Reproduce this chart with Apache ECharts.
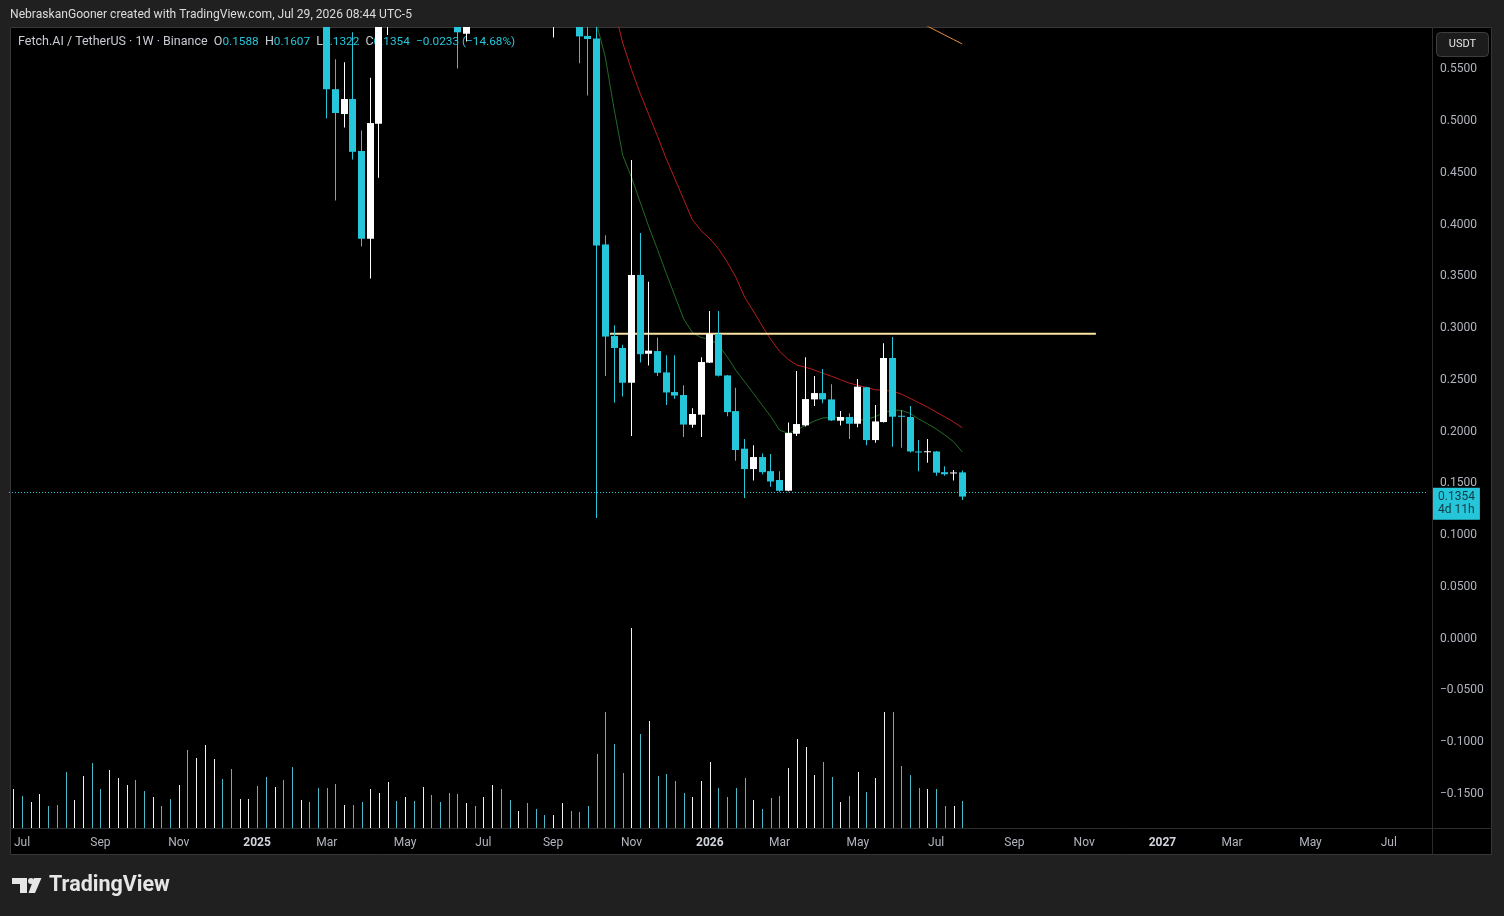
<!DOCTYPE html>
<html>
<head>
<meta charset="utf-8">
<script src="https://cdn.jsdelivr.net/npm/echarts@6/dist/echarts.min.js"></script>
<style>
html,body{margin:0;padding:0;background:#202020;}
#chart{width:1504px;height:916px;}
</style>
</head>
<body>
<div id="chart"></div>
<script>
// ---------- DATA (weekly FET/USDT, Binance; weeks start 2024-06-24) ----------
const firstWeek = '2024-06-24';
const totalWeeks = 163; // visible time scale runs into Aug 2027

const opens = [1.33,1.42,1.15,1.27,1.38,1.25,1.06,0.98,1.05,1.38,
  1.15,1.08,1.35,1.50,1.60,1.38,1.35,1.45,1.38,1.22,
  1.45,1.28,1.48,1.80,1.95,1.62,1.28,1.30,1.40,1.22,
  1.15,1.25,0.95,0.78,0.82,0.73,0.66,0.529,0.505,0.5195,
  0.4693,0.3845,0.4957,0.64,0.74,0.70,0.85,0.80,0.83,0.76,
  0.74,0.70,0.5826,0.64,0.61,0.70,0.78,0.72,0.66,0.69,
  0.66,0.64,0.62,0.64,0.66,0.63,0.5805,0.578,0.379,0.2905,
  0.279,0.2454,0.3495,0.2734,0.276,0.2554,0.2364,0.2335,0.2048,0.2145,
  0.2648,0.2925,0.2525,0.218,0.1817,0.162,0.1736,0.160,0.1514,0.1411,
  0.1961,0.2042,0.2293,0.2354,0.2293,0.2087,0.2123,0.2058,0.241,0.190,
  0.2074,0.2693,0.2135,0.2123,0.179,0.1784,0.179,0.159,0.1578,0.1588];
const highs = [1.52,1.50,1.32,1.45,1.44,1.30,1.12,1.10,1.45,1.45,
  1.22,1.38,1.55,1.75,1.65,1.48,1.52,1.55,1.45,1.50,
  1.55,1.52,1.90,2.05,2.00,1.70,1.42,1.52,1.45,1.30,
  1.38,1.30,1.00,0.88,0.86,0.76,0.72,0.558,0.555,0.584,
  0.489,0.540,0.66,0.80,0.78,0.90,0.95,0.88,0.86,0.80,
  0.84,0.72,0.66,0.66,0.72,0.82,0.84,0.74,0.72,0.76,
  0.70,0.67,0.66,0.68,0.70,0.65,0.62,0.60,0.388,0.301,
  0.282,0.4606,0.390,0.343,0.289,0.272,0.272,0.243,0.2207,0.270,
  0.3147,0.3147,0.2528,0.2406,0.191,0.185,0.177,0.1765,0.160,0.207,
  0.2567,0.270,0.252,0.2586,0.244,0.218,0.216,0.249,0.2415,0.224,
  0.2836,0.2896,0.219,0.223,0.190,0.191,0.1795,0.1646,0.161,0.1607];
const lows = [1.25,1.04,1.06,1.20,1.18,1.02,0.80,0.93,1.02,1.10,
  1.02,1.05,1.28,1.45,1.30,1.28,1.32,1.30,1.18,1.16,
  1.20,1.22,1.42,1.70,1.50,1.22,1.20,1.25,1.15,1.10,
  1.10,0.88,0.66,0.74,0.70,0.61,0.501,0.4215,0.492,0.461,
  0.377,0.346,0.4435,0.5813,0.66,0.66,0.76,0.75,0.72,0.70,
  0.66,0.549,0.575,0.60,0.60,0.68,0.68,0.62,0.62,0.63,
  0.61,0.60,0.579,0.61,0.605,0.554,0.523,0.1147,0.252,0.226,
  0.232,0.194,0.265,0.262,0.252,0.224,0.230,0.193,0.202,0.193,
  0.2645,0.2515,0.213,0.170,0.134,0.151,0.157,0.145,0.140,0.1405,
  0.194,0.203,0.223,0.2255,0.2085,0.204,0.191,0.2023,0.185,0.1875,
  0.207,0.1836,0.1826,0.178,0.160,0.168,0.1556,0.1556,0.151,0.1322];
const closes = [1.42,1.15,1.27,1.38,1.25,1.06,0.98,1.05,1.38,1.15,
  1.08,1.35,1.50,1.60,1.38,1.35,1.45,1.38,1.22,1.45,
  1.28,1.48,1.80,1.95,1.62,1.28,1.30,1.40,1.22,1.15,
  1.25,0.95,0.78,0.82,0.73,0.66,0.529,0.506,0.5195,0.4685,
  0.3845,0.4963,0.64,0.74,0.70,0.85,0.80,0.83,0.76,0.74,
  0.70,0.584,0.64,0.61,0.70,0.78,0.72,0.66,0.69,0.66,
  0.64,0.62,0.64,0.66,0.63,0.580,0.5775,0.378,0.290,0.279,
  0.2454,0.3495,0.273,0.2764,0.255,0.236,0.233,0.205,0.2152,0.2654,
  0.2925,0.2522,0.217,0.1804,0.162,0.1736,0.159,0.150,0.141,0.1968,
  0.2055,0.2296,0.2354,0.2293,0.209,0.2123,0.2058,0.2416,0.190,0.208,
  0.2693,0.2126,0.2125,0.179,0.1785,0.1792,0.1585,0.157,0.1587,0.1354];
// volume (relative units)
const volume = [39,32,26,34,22,23,56,28,52,65,
  39,58,50,43,48,37,31,22,29,43,
  78,70,83,69,49,59,29,29,42,51,
  41,48,61,28,26,40,40,44,23,23,
  26,39,35,46,27,31,27,41,33,26,
  35,34,25,22,31,43,39,28,17,25,
  19,13,13,25,17,16,22,74,116,84,
  55,200,94,107,52,54,47,35,31,47,
  66,40,31,40,50,28,19,30,32,60,
  89,81,53,66,51,26,32,56,36,50,
  116,116,62,53,40,39,39,22,22,27];
// moving averages (start = first week index)
const maGreenStart = 66;
const maGreen = [0.625,0.592,0.560,0.510,0.465,0.444,0.420,0.396,0.374,0.351,
  0.329,0.307,0.294,0.289,0.2876,0.2818,0.2705,0.2574,0.2464,0.2352,
  0.2239,0.2129,0.1997,0.1965,0.1997,0.2042,0.2084,0.2113,0.2120,0.2120,
  0.2103,0.2094,0.2097,0.2126,0.2164,0.2190,0.2187,0.2158,0.2103,0.2058,
  0.2007,0.1949,0.1884,0.1785];
const maRedStart = 68;
const maRed = [0.640,0.6077,0.5736,0.548,0.525,0.5043,0.4834,0.4618,0.4422,0.4225,
  0.4029,0.3922,0.3846,0.3749,0.362,0.3473,0.3282,0.3147,0.3005,0.2873,
  0.2759,0.268,0.2625,0.2603,0.2577,0.2545,0.2516,0.2483,0.2451,0.2429,
  0.2408,0.2386,0.2381,0.2371,0.2345,0.2303,0.2261,0.2219,0.2171,0.2124,
  0.2075,0.2019];
const maOrangeStart = 103;
const maOrange = [0.5985,0.5942,0.5899,0.5856,0.5813,0.5770,0.5727];
// horizontal resistance line (x in week-index units, y in price)
const resistanceLine = [[68.53, 0.2928], [124.35, 0.2928]];
// x-axis tick labels (first weekly bar of every other month)
const xTickLabels = {
  '2024-07-01':'Jul','2024-09-02':'Sep','2024-11-04':'Nov','2025-01-06':'2025',
  '2025-03-03':'Mar','2025-05-05':'May','2025-07-07':'Jul','2025-09-01':'Sep',
  '2025-11-03':'Nov','2026-01-05':'2026','2026-03-02':'Mar','2026-05-04':'May',
  '2026-07-06':'Jul','2026-09-07':'Sep','2026-11-02':'Nov','2027-01-04':'2027',
  '2027-03-01':'Mar','2027-05-03':'May','2027-07-05':'Jul'};
const countdown = '4d 11h';

// ---------- BUILD ----------
const weeks = [];
{
  const t0 = Date.parse(firstWeek + 'T00:00:00Z');
  for (let k = 0; k < totalWeeks; k++) weeks.push(new Date(t0 + k * 7 * 86400000).toISOString().slice(0, 10));
}
const UP = '#ffffff', DOWN = '#26c6da';
const VOL_UP = '#f2f2f2', VOL_DOWN = '#4cb8c8';
const candleData = opens.map((o, i) => [i, o, closes[i], lows[i], highs[i]]);
const volData = volume.map((v, i) => [i, v, closes[i] >= opens[i] ? 1 : 0]);
function pad(start, arr) { const out = []; for (let i = 0; i < start; i++) out.push(null); return out.concat(arr); }

const last = closes.length - 1;
const chg = closes[last] - closes[last - 1];
const pct = chg / closes[last - 1] * 100;
const fmtSigned = v => (v < 0 ? '\u2212' : '+') + Math.abs(v).toFixed(4);
const legendText =
  '{g|Fetch.AI / TetherUS · 1W · Binance}  {g|O}{c|' + opens[last].toFixed(4) + '}  {g|H}{c|' + highs[last].toFixed(4) +
  '}  {g|L}{c|' + lows[last].toFixed(4) + '}  {g|C}{c|' + closes[last].toFixed(4) + '}  {c|' + fmtSigned(chg) +
  ' (' + (pct < 0 ? '\u2212' : '+') + Math.abs(pct).toFixed(2) + '%)}';

const chart = echarts.init(document.getElementById('chart'), null, {renderer: 'canvas'});
const FONT = 'Roboto, "Noto Sans", sans-serif';

const option = {
  backgroundColor: '#202020',
  animation: false,
  textStyle: {fontFamily: FONT},
  grid: {left: 9, top: 27, width: 1419, height: 801, outerBoundsMode: 'none', containLabel: false},
  xAxis: [{
    type: 'category', data: weeks, boundaryGap: true,
    axisLine: {show: false}, axisTick: {show: false}, splitLine: {show: false},
    axisLabel: {
      interval: (idx, val) => Object.prototype.hasOwnProperty.call(xTickLabels, val),
      formatter: val => { const t = xTickLabels[val] || ''; return /^\d{4}$/.test(t) ? '{y|' + t + '}' : t; },
      color: '#b2b5be', fontSize: 12, margin: 9, fontFamily: FONT, hideOverlap: false,
      rich: {y: {color: '#d1d4dc', fontWeight: 'bold', fontSize: 12, fontFamily: FONT}}
    }
  }, {
    type: 'value', min: -0.5, max: totalWeeks - 0.5, show: false
  }],
  yAxis: [{
    type: 'value', position: 'right', min: -0.1848, max: 0.5891, splitNumber: 15,
    axisLine: {show: false}, axisTick: {show: false}, splitLine: {show: false},
    axisLabel: {
      color: '#b2b5be', fontSize: 12, margin: 12, fontFamily: FONT,
      showMinLabel: false, showMaxLabel: false,
      formatter: v => '{v|' + (v < -1e-9 ? '\u2212' : '') + Math.abs(v).toFixed(4) + '}',
      rich: {v: {color: '#b2b5be', fontSize: 12, fontFamily: FONT, padding: [4, 0, 0, 0]}}
    }
  }, {
    type: 'value', min: 0, max: 801, show: false
  }],
  graphic: [
    {type: 'rect', z: -1, silent: true, shape: {x: 10.5, y: 27.5, width: 1481, height: 827}, style: {fill: '#000000', stroke: '#363636', lineWidth: 1}},
    {type: 'line', z: 1, silent: true, shape: {x1: 1432.5, y1: 27, x2: 1432.5, y2: 855}, style: {stroke: '#2c2c2c', lineWidth: 1}},
    {type: 'line', z: 1, silent: true, shape: {x1: 10, y1: 828.5, x2: 1492, y2: 828.5}, style: {stroke: '#2c2c2c', lineWidth: 1}},
    {type: 'text', z: 1, silent: true, x: 10, y: 15, style: {text: 'NebraskanGooner created with TradingView.com, Jul 29, 2026 08:44 UTC-5', fill: '#dcdcdc', fontSize: 12.1, fontFamily: FONT, verticalAlign: 'middle'}},
    {type: 'text', z: 1, silent: true, x: 18, y: 42, style: {text: legendText, fontSize: 12.5, fontFamily: FONT, verticalAlign: 'middle',
      rich: {g: {fill: '#c9ccd3', color: '#c9ccd3', fontSize: 12.5, fontFamily: FONT}, c: {fill: DOWN, color: DOWN, fontSize: 11.8, fontFamily: FONT}}}},
    {type: 'rect', z: 1, silent: true, shape: {x: 1436.5, y: 32.5, width: 52, height: 24, r: 4}, style: {fill: '#1c1c1c', stroke: '#3e3e3e', lineWidth: 1}},
    {type: 'text', z: 1, silent: true, x: 1462.5, y: 44.5, style: {text: 'USDT', fill: '#e6e6e6', fontSize: 11, fontFamily: FONT, align: 'center', verticalAlign: 'middle'}},
    // TradingView logo
    {type: 'rect', z: 1, silent: true, shape: {x: 12, y: 878, width: 15, height: 6}, style: {fill: '#e6e6e6'}},
    {type: 'rect', z: 1, silent: true, shape: {x: 20, y: 884, width: 7, height: 9}, style: {fill: '#e6e6e6'}},
    {type: 'circle', z: 1, silent: true, shape: {cx: 31, cy: 881, r: 3}, style: {fill: '#e6e6e6'}},
    {type: 'polygon', z: 1, silent: true, shape: {points: [[34, 878], [41.5, 878], [35, 893], [28.5, 893]]}, style: {fill: '#e6e6e6'}},
    {type: 'text', z: 1, silent: true, x: 49, y: 886, style: {text: 'TradingView', fill: '#e6e6e6', fontSize: 21.5, fontWeight: 'bold', fontFamily: 'Roboto, sans-serif', verticalAlign: 'middle'}}
  ],
  series: [
    {
      name: 'Volume', type: 'custom', xAxisIndex: 0, yAxisIndex: 1, clip: true, silent: true,
      data: volData, encode: {x: 0, y: 1},
      renderItem: (params, api) => {
        const i = api.value(0), v = api.value(1), up = api.value(2) === 1;
        const p = api.coord([i, v]), b = api.coord([i, 0]);
        return {type: 'rect', shape: {x: Math.round(p[0]), y: p[1], width: 1, height: b[1] - p[1]}, style: {fill: up ? VOL_UP : VOL_DOWN}};
      }
    },
    {
      name: 'MA green', type: 'line', xAxisIndex: 0, yAxisIndex: 0, data: pad(maGreenStart, maGreen),
      showSymbol: false, symbol: 'none', silent: true, clip: true, lineStyle: {color: '#236b26', width: 1}, z: 3
    },
    {
      name: 'MA red', type: 'line', xAxisIndex: 0, yAxisIndex: 0, data: pad(maRedStart, maRed),
      showSymbol: false, symbol: 'none', silent: true, clip: true, lineStyle: {color: '#b71c1c', width: 1}, z: 3
    },
    {
      name: 'MA orange', type: 'line', xAxisIndex: 0, yAxisIndex: 0, data: pad(maOrangeStart, maOrange),
      showSymbol: false, symbol: 'none', silent: true, clip: true, lineStyle: {color: '#e8893a', width: 1}, z: 3
    },
    {
      name: 'Resistance', type: 'line', xAxisIndex: 1, yAxisIndex: 0, data: resistanceLine,
      showSymbol: false, symbol: 'none', silent: true, clip: true, lineStyle: {color: '#fbe3a1', width: 2}, z: 3
    },
    {
      name: 'FETUSDT', type: 'custom', xAxisIndex: 0, yAxisIndex: 0, clip: true, silent: true, z: 4,
      data: candleData, encode: {x: 0, y: [1, 2, 3, 4]},
      renderItem: (params, api) => {
        const i = api.value(0), o = api.value(1), c = api.value(2), l = api.value(3), h = api.value(4);
        const po = api.coord([i, o]), pc = api.coord([i, c]), pl = api.coord([i, l]), ph = api.coord([i, h]);
        const cx = Math.round(po[0] - 0.5);
        const color = c >= o ? UP : DOWN;
        const top = Math.min(po[1], pc[1]);
        const bh = Math.max(1, Math.abs(pc[1] - po[1]));
        return {type: 'group', children: [
          {type: 'rect', shape: {x: cx, y: ph[1], width: 1, height: pl[1] - ph[1]}, style: {fill: color}},
          {type: 'rect', shape: {x: cx - 3, y: top, width: 7, height: bh}, style: {fill: color}}
        ]};
      },
      markLine: {
        silent: true, symbol: ['none', 'none'], animation: false,
        lineStyle: {color: DOWN, width: 1, type: [1, 2]},
        label: {
          show: true, position: 'end', distance: 5, offset: [0, 12],
          formatter: () => closes[last].toFixed(4) + '\n' + countdown,
          backgroundColor: DOWN, color: '#0d3a42', fontSize: 12, lineHeight: 13,
          padding: [3, 5, 3, 5], fontFamily: FONT, align: 'left'
        },
        emphasis: {disabled: true},
        data: [{yAxis: closes[last]}]
      }
    }
  ]
};
chart.setOption(option);
</script>
</body>
</html>
